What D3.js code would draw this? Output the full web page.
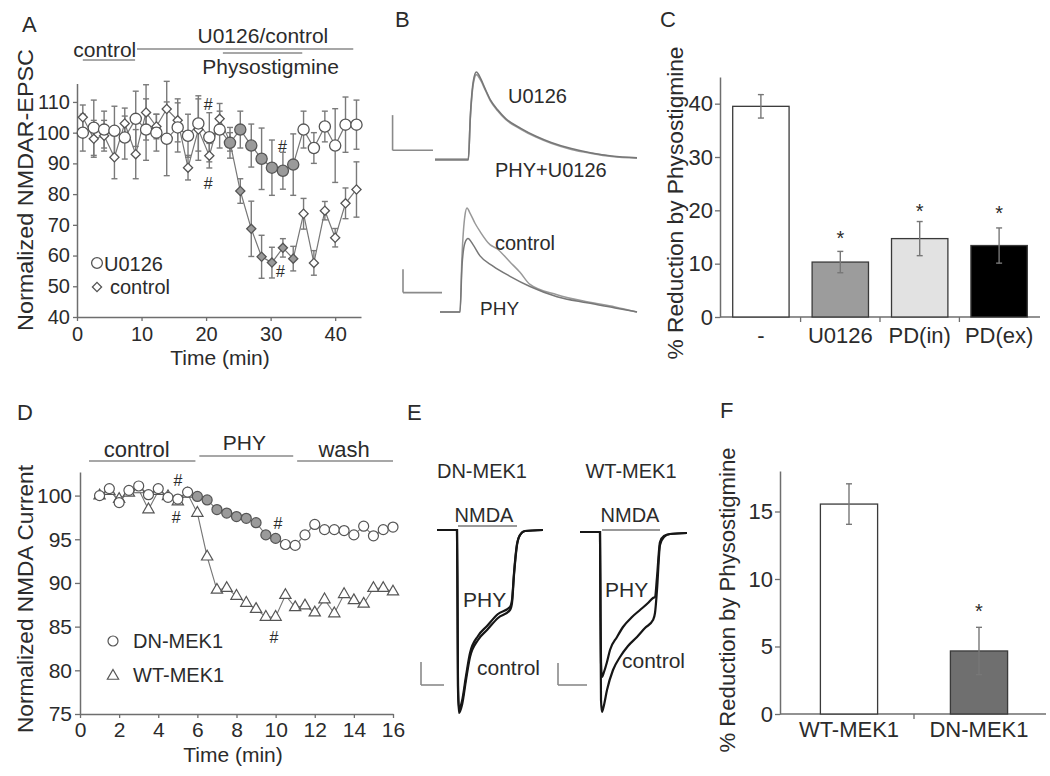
<!DOCTYPE html>
<html><head><meta charset="utf-8">
<script src="https://cdn.jsdelivr.net/npm/d3@7"></script>
<style>body{margin:0;background:#fff}</style>
</head><body><svg width="1050" height="776"></svg>
<script>
// ---------------- DATA ----------------
// Panel A : normalized NMDAR-EPSC vs time
const timeA = [0.9,2.6,4.2,5.8,7.4,9.1,10.7,12.3,13.9,15.6,17.2,18.8,20.5,22.1,23.7,25.3,27.0,28.6,30.2,31.9,33.5,35.1,36.7,38.4,40.0,41.6,43.3];
const u0126A = [100,101.6,101,100.6,98.4,104.5,101,100,98,101.7,99,103,98.5,101,96.7,101,95.8,91.5,88.6,87.6,89.6,101,95,102,95.8,102.6,102.6];
const u0126AErr = [6,9,6,8,7,9,10,6,12,8,7,9,8,6,5,6,7,10,9,6,10,6,5,5,12,9,8];
const controlA = [105,98,99,92,103,93,106.6,102,107.7,104,88.6,101,92.5,104.5,97,81,68.7,59.6,57.7,62.5,59,73.6,57.6,74.6,65.8,77,81.5];
const controlAErr = [4,6,5,7,5,8,9,4,9,7,4,10,4,5,3,4,9,7,5,3,4,5,4,3,3,5,9];
const ticksAx = [0,10,20,30,40];
const ticksAy = [40,50,60,70,80,90,100,110];
const periodsA = {control:[0.9,9.0], drug:[9.3,42.8], phy:[22.6,34.9]};
const hashA = [[20.3,109.4],[20.3,83.7],[31.8,95.8],[31.5,55]];

// Panel B : EPSC traces (time ms, normalized amplitude)
const traceU0126 = [[0,0],[33,0],[35,0.5],[38,0.9],[41,1.0],[45,0.93],[50,0.8],[55,0.68],[62,0.57],[70,0.47],[85,0.36],[100,0.27],[115,0.2],[135,0.13],[155,0.08],[175,0.045],[200,0.025]];
const tracePhyU0126 = [[0,0.01],[33,0.01],[35,0.48],[38,0.87],[41,0.97],[45,0.91],[50,0.79],[55,0.67],[62,0.56],[70,0.46],[85,0.35],[100,0.26],[115,0.19],[135,0.12],[155,0.075],[175,0.04],[200,0.02]];
const traceControlB = [[0,0],[20,0],[22,0.55],[25,0.95],[27,1.02],[30,0.97],[35,0.87],[40,0.79],[50,0.66],[57,0.62],[70,0.49],[80,0.39],[90,0.27],[117,0.17],[147,0.1],[175,0.05],[197,0]];
const tracePhyB = [[0,0],[20,0],[22,0.45],[25,0.68],[28,0.72],[33,0.66],[40,0.55],[53,0.45],[70,0.35],[90,0.25],[117,0.15],[147,0.09],[175,0.04],[197,0]];

// Panel C : % reduction
const catsC = ["-","U0126","PD(in)","PD(ex)"];
const reductionC = [39.5,10.3,14.7,13.4];
const errC = [2.2,2.0,3.2,3.3];
const starC = [null,15.5,20.6,20.2];
const ticksCy = [0,10,20,30,40];

// Panel D : normalized NMDA current
const timeD = [1,1.5,2,2.5,3,3.5,4,4.5,5,5.5,6,6.5,7,7.5,8,8.5,9,9.5,10,10.5,11,11.5,12,12.5,13,13.5,14,14.5,15,15.5,16];
const dnMek1 = [100.0,100.8,99.2,100.6,101.1,100.1,100.8,99.8,99.6,100.4,99.9,99.5,98.4,98.0,97.6,97.4,96.9,95.5,95.1,94.4,94.3,95.5,96.7,96.1,96.1,96.0,95.5,96.5,95.4,96.1,96.4];
const wtMek1 = [100,100.5,99.6,100.3,100.7,98.4,100.5,99.9,99.3,100.2,98.0,93.0,89.2,89.4,88.5,87.7,87.0,86.1,86.1,88.6,87.2,87.4,86.6,88.1,86.5,88.7,88.0,87.6,89.4,89.4,89.0];
const ticksDx = [0,2,4,6,8,10,12,14,16];
const ticksDy = [75,80,85,90,95,100];
const periodsD = {control:[0.46,5.9], phy:[6.1,10.9], wash:[11.1,16]};
const hashD = [[5.0,101.8],[4.9,97.5],[10.1,96.9],[9.9,83.8]];

// Panel E : NMDA current traces (time, pA)
const dnControlE = [[0,0],[20,0],[20.5,-70],[21,-160],[22,-183],[25,-175],[29,-150],[33,-127],[41,-110],[50,-100],[61,-88],[73,-80],[75,-73],[77,-45],[80,-15],[83,-5],[88,-1],[106,0]];
const dnPhyE = [[0,0],[20,0],[20.5,-68],[21,-155],[22,-179],[25,-171],[29,-146],[33,-123],[41,-106],[50,-96],[61,-84],[73,-77],[75,-70],[77,-43],[80,-14],[83,-5],[88,-1],[106,0]];
const wtControlE = [[0,0],[20,0],[20.5,-88],[21,-168],[22,-180],[24,-173],[27,-158],[33,-138],[40,-125],[48,-114],[57,-105],[65,-96],[73,-88],[75,-81],[77,-58],[80,-13],[84,-5],[90,-2],[107,-1]];
const wtPhyE = [[0,0],[20,0],[20.5,-80],[21,-130],[22,-145],[24,-140],[27,-130],[30,-118],[37,-105],[43,-95],[52,-85],[60,-78],[68,-71],[73,-66],[75,-65],[77,-45],[80,-10],[84,-4],[90,-2],[107,-1]];
const nmdaE = [20,80];

// Panel F
const catsF = ["WT-MEK1","DN-MEK1"];
const reductionF = [15.55,4.67];
const errF = [1.5,1.75];
const starF = [null,7.9];
const ticksFy = [0,5,10,15];

// ---------------- DRAW ----------------
const FONT = '"Liberation Sans", Arial, Helvetica, sans-serif';
const TXT = "#2b2b2b", AX = "#6e6e6e", GREY = "#9a9a9a";
const svg = d3.select("svg");
svg.append("rect").attr("width",1050).attr("height",776).attr("fill","#fff");

function label(x,y,s,fs,anchor,extra){
  const t = svg.append("text").attr("x",x).attr("y",y).attr("font-size",fs)
    .attr("text-anchor",anchor||"start").attr("fill",TXT).attr("font-family",FONT).text(s);
  if(extra) extra(t);
  return t;
}
function seg(x0,y0,x1,y1,color,w){
  return svg.append("line").attr("x1",x0).attr("y1",y0).attr("x2",x1).attr("y2",y1)
    .attr("stroke",color||AX).attr("stroke-width",w||1.5);
}
function vtitle(x,y,s,fs,len){
  svg.append("text").attr("transform",`translate(${x},${y}) rotate(-90)`)
    .attr("text-anchor","middle").attr("font-size",fs).attr("font-family",FONT).attr("fill",TXT)
    .attr("textLength",len).attr("lengthAdjust","spacingAndGlyphs").text(s);
}
function styleAxis(g,fs){
  g.attr("font-family",FONT).attr("font-size",fs).attr("color",AX);
  g.select(".domain").attr("stroke-width",1.5);
  g.selectAll(".tick line").attr("stroke-width",1.3);
  g.selectAll(".tick text").attr("fill",TXT);
}
function errBars(g, xs, vs, es, xS, yS, cap, color){
  vs.forEach((v,i)=>{
    const x = xS(xs[i]), y0 = yS(v-es[i]), y1 = yS(v+es[i]);
    g.append("line").attr("x1",x).attr("x2",x).attr("y1",y0).attr("y2",y1).attr("stroke",color).attr("stroke-width",1.4);
    [y0,y1].forEach(yy=>g.append("line").attr("x1",x-cap).attr("x2",x+cap).attr("y1",yy).attr("y2",yy).attr("stroke",color).attr("stroke-width",1.4));
  });
}
function hashMark(x,y){ label(x,y+6,"#",16,"middle",t=>t.attr("font-style","italic")); }

// panel letters
label(22,32,"A",22); label(395,27,"B",22); label(660,27,"C",22);
label(17,420,"D",22); label(407,420,"E",22); label(720,418,"F",22);

// ===== Panel A =====
const xA = d3.scaleLinear().domain([0,44]).range([77,361]);
const yA = d3.scaleLinear().domain([40,116]).range([317,83.5]);
styleAxis(svg.append("g").attr("transform",`translate(${xA(0)},0)`)
  .call(d3.axisLeft(yA).tickValues(ticksAy).tickSize(4).tickSizeOuter(0).tickPadding(3)),20);
const gAx = svg.append("g").attr("transform",`translate(0,${yA(40)})`)
  .call(d3.axisBottom(xA).tickValues(ticksAx).tickSize(4).tickSizeOuter(0));
styleAxis(gAx,20); gAx.selectAll(".tick text").attr("y",24).attr("dy",null);
label(220,365,"Time (min)",21,"middle");
vtitle(33,190,"Normalized NMDAR-EPSC",22,282);

// annotation bars
seg(xA(periodsA.control[0]),60,xA(periodsA.control[1]),60,"#8a8a8a",1.5);
label(xA(4.3),57,"control",21,"middle");
seg(xA(periodsA.drug[0]),49,xA(periodsA.drug[1]),49,"#8a8a8a",1.5);
label(xA(28.8),43,"U0126/control",21,"middle");
seg(xA(periodsA.phy[0]),53,xA(periodsA.phy[1]),53,"#8a8a8a",1.5);
label(xA(30),74,"Physostigmine",21,"middle");

const inPhyA = t => t>=periodsA.phy[0] && t<=periodsA.phy[1];
const gA = svg.append("g");
errBars(gA,timeA,controlA,controlAErr,xA,yA,3,"#7a7a7a");
errBars(gA,timeA,u0126A,u0126AErr,xA,yA,3,"#7a7a7a");
const lineA = d3.line().x((d,i)=>xA(timeA[i])).y(d=>yA(d));
gA.append("path").attr("d",lineA(controlA)).attr("fill","none").attr("stroke","#777").attr("stroke-width",1.2);
gA.append("path").attr("d",lineA(u0126A)).attr("fill","none").attr("stroke","#777").attr("stroke-width",1.2);
const diamond = d3.symbol(d3.symbolSquare,42);
gA.selectAll(".dA").data(controlA).join("path")
  .attr("transform",(d,i)=>`translate(${xA(timeA[i])},${yA(d)}) rotate(45)`)
  .attr("d",diamond).attr("fill",(d,i)=>inPhyA(timeA[i])?GREY:"#fff").attr("stroke","#555").attr("stroke-width",1.3);
gA.selectAll(".cA").data(u0126A).join("circle")
  .attr("cx",(d,i)=>xA(timeA[i])).attr("cy",d=>yA(d)).attr("r",5.6)
  .attr("fill",(d,i)=>inPhyA(timeA[i])?GREY:"#fff").attr("stroke","#555").attr("stroke-width",1.3);
hashA.forEach(h=>hashMark(xA(h[0]),yA(h[1])));
// legend A
svg.append("circle").attr("cx",97).attr("cy",263).attr("r",5.4).attr("fill","#fff").attr("stroke","#555").attr("stroke-width",1.3);
label(104,271,"U0126",20);
svg.append("path").attr("transform","translate(97,287) rotate(45)").attr("d",diamond).attr("fill","#fff").attr("stroke","#555").attr("stroke-width",1.3);
label(110,294,"control",20);

// ===== Panel B =====
const xBt = d3.scaleLinear().domain([0,200]).range([435,637]);
const yBt = d3.scaleLinear().domain([0,1]).range([160,72]);
const xBb = d3.scaleLinear().domain([0,197]).range([440,637]);
const yBb = d3.scaleLinear().domain([0,1]).range([312,210]);
const lt = d3.line().x(d=>xBt(d[0])).y(d=>yBt(d[1])).curve(d3.curveMonotoneX);
const lb = d3.line().x(d=>xBb(d[0])).y(d=>yBb(d[1])).curve(d3.curveMonotoneX);
svg.append("path").attr("d",lt(tracePhyU0126)).attr("fill","none").attr("stroke","#999").attr("stroke-width",1.6);
svg.append("path").attr("d",lt(traceU0126)).attr("fill","none").attr("stroke","#777").attr("stroke-width",1.6);
svg.append("path").attr("d",lb(traceControlB)).attr("fill","none").attr("stroke","#999").attr("stroke-width",1.5);
svg.append("path").attr("d",lb(tracePhyB)).attr("fill","none").attr("stroke","#777").attr("stroke-width",1.5);
// scale bars
seg(xBt(-42),yBt(0.11),xBt(-2),yBt(0.11),"#8a8a8a",1.6);
seg(xBt(-42),yBt(0.11),xBt(-42),yBt(0.51),"#8a8a8a",1.6);
seg(xBb(-37),yBb(0.19),xBb(2),yBb(0.19),"#8a8a8a",1.6);
seg(xBb(-37),yBb(0.19),xBb(-37),yBb(0.42),"#8a8a8a",1.6);
label(508,103,"U0126",20);
label(495,177,"PHY+U0126",20);
label(495,250,"control",20);
label(480,315,"PHY",19);

// ===== Panel C =====
const xC = d3.scaleBand().domain(catsC).range([720,1040]).paddingInner(0.29).paddingOuter(0.16);
const yC = d3.scaleLinear().domain([0,45]).range([317,77]);
styleAxis(svg.append("g").attr("transform","translate(720,0)")
  .call(d3.axisLeft(yC).tickValues(ticksCy).tickSize(5).tickSizeOuter(0).tickPadding(2)),22);
seg(720,317,1040,317,AX,1.5);
catsC.slice(1).forEach(c=>{ const bx = xC(c)-xC.step()*xC.paddingInner()/2; seg(bx,317,bx,322,AX,1.3); });
const fillsC = ["#fff","#9c9c9c","#e2e2e2","#000"];
const gC = svg.append("g");
gC.selectAll("rect").data(reductionC).join("rect")
  .attr("x",(d,i)=>xC(catsC[i])).attr("width",xC.bandwidth())
  .attr("y",d=>yC(d)).attr("height",d=>yC(0)-yC(d))
  .attr("fill",(d,i)=>fillsC[i]).attr("stroke","#3a3a3a").attr("stroke-width",1.3);
errBars(gC,catsC.map((c,i)=>i),reductionC,errC,i=>xC(catsC[i])+xC.bandwidth()/2,yC,3,"#777");
catsC.forEach((c,i)=>{
  label(xC(c)+xC.bandwidth()/2,343,c,22,"middle");
  if(starC[i]!=null) label(xC(c)+xC.bandwidth()/2,yC(starC[i])+11,"*",20,"middle");
});
vtitle(683,203,"% Reduction by Physostigmine",22,313);

// ===== Panel D =====
const xD = d3.scaleLinear().domain([0,16]).range([80,393]);
const yD = d3.scaleLinear().domain([75,102.7]).range([714,472]);
styleAxis(svg.append("g").attr("transform",`translate(${xD(0)},0)`)
  .call(d3.axisLeft(yD).tickValues(ticksDy).tickSize(5).tickSizeOuter(0).tickPadding(3)),21);
const gDx = svg.append("g").attr("transform",`translate(0,${yD(75)})`)
  .call(d3.axisBottom(xD).tickValues(ticksDx).tickSize(4).tickSizeOuter(0));
styleAxis(gDx,21); gDx.selectAll(".tick text").attr("y",23).attr("dy",null);
label(233,762,"Time (min)",21,"middle");
vtitle(33,599,"Normalized NMDA Current",22,268);
seg(xD(periodsD.control[0]),461,xD(periodsD.control[1]),461,"#8a8a8a",1.5);
label(xD(2.9),457,"control",22,"middle");
seg(xD(periodsD.phy[0]),456,xD(periodsD.phy[1]),456,"#8a8a8a",1.5);
label(xD(8.4),450,"PHY",21,"middle");
seg(xD(periodsD.wash[0]),461,xD(periodsD.wash[1]),461,"#8a8a8a",1.5);
label(xD(13.5),457,"wash",22,"middle");
const inPhyD = t => t>=6 && t<=10;
const lineD = d3.line().x((d,i)=>xD(timeD[i])).y(d=>yD(d));
const gD = svg.append("g");
gD.append("path").attr("d",lineD(wtMek1)).attr("fill","none").attr("stroke","#777").attr("stroke-width",1.1);
gD.append("path").attr("d",lineD(dnMek1)).attr("fill","none").attr("stroke","#777").attr("stroke-width",1.1);
const tri = d3.symbol(d3.symbolTriangle,55);
gD.selectAll(".tD").data(wtMek1).join("path")
  .attr("transform",(d,i)=>`translate(${xD(timeD[i])},${yD(d)})`)
  .attr("d",tri).attr("fill","#fff").attr("stroke","#555").attr("stroke-width",1.2);
gD.selectAll(".cD").data(dnMek1).join("circle")
  .attr("cx",(d,i)=>xD(timeD[i])).attr("cy",d=>yD(d)).attr("r",5)
  .attr("fill",(d,i)=>inPhyD(timeD[i])?GREY:"#fff").attr("stroke","#555").attr("stroke-width",1.2);
hashD.forEach(h=>hashMark(xD(h[0]),yD(h[1])));
svg.append("circle").attr("cx",113).attr("cy",641).attr("r",5).attr("fill","#fff").attr("stroke","#555").attr("stroke-width",1.2);
label(133,648,"DN-MEK1",20);
svg.append("path").attr("transform","translate(113,676)").attr("d",tri).attr("fill","#fff").attr("stroke","#555").attr("stroke-width",1.2);
label(133,682,"WT-MEK1",20);

// ===== Panel E =====
const xEL = d3.scaleLinear().domain([0,106]).range([437,543]);
const yEL = d3.scaleLinear().domain([-183,0]).range([713,530]);
const xER = d3.scaleLinear().domain([0,107]).range([580,687]);
const yER = d3.scaleLinear().domain([-180,0]).range([712,532]);
const lEL = d3.line().x(d=>xEL(d[0])).y(d=>yEL(d[1])).curve(d3.curveMonotoneX);
const lER = d3.line().x(d=>xER(d[0])).y(d=>yER(d[1])).curve(d3.curveMonotoneX);
[[dnControlE,lEL],[dnPhyE,lEL],[wtControlE,lER],[wtPhyE,lER]].forEach(p=>
  svg.append("path").attr("d",p[1](p[0])).attr("fill","none").attr("stroke","#161616").attr("stroke-width",2.2));
seg(xEL(nmdaE[0])+1,526,xEL(nmdaE[1]),526,"#999",2);
seg(xER(nmdaE[0])+2,530,xER(nmdaE[1]),530,"#999",2);
seg(xEL(-16),yEL(-155),xEL(7),yEL(-155),"#8a8a8a",1.6);
seg(xEL(-16),yEL(-155),xEL(-16),yEL(-132),"#8a8a8a",1.6);
seg(xER(-22),yER(-153),xER(7),yER(-153),"#8a8a8a",1.6);
seg(xER(-22),yER(-153),xER(-22),yER(-131),"#8a8a8a",1.6);
label(482,478,"DN-MEK1",20,"middle");
label(631,478,"WT-MEK1",20,"middle");
label(484,522,"NMDA",20,"middle");
label(630,522,"NMDA",20,"middle");
label(463,607,"PHY",21);
label(477,675,"control",21);
label(605,597,"PHY",21);
label(622,668,"control",21);

// ===== Panel F =====
const xF = d3.scaleBand().domain(catsF).range([784,1044]).paddingInner(0.56).paddingOuter(0.28);
const yF = d3.scaleLinear().domain([0,18]).range([714,471]);
styleAxis(svg.append("g").attr("transform","translate(780,0)")
  .call(d3.axisLeft(yF).tickValues(ticksFy).tickSize(5).tickSizeOuter(0).tickPadding(2)),22);
seg(780,714,1046,714,AX,1.5);
{ const bx = xF(catsF[1])-xF.step()*xF.paddingInner()/2; seg(bx,714,bx,719,AX,1.3); }
const fillsF = ["#fff","#6f6f6f"];
const gF = svg.append("g");
gF.selectAll("rect").data(reductionF).join("rect")
  .attr("x",(d,i)=>xF(catsF[i])).attr("width",xF.bandwidth())
  .attr("y",d=>yF(d)).attr("height",d=>yF(0)-yF(d))
  .attr("fill",(d,i)=>fillsF[i]).attr("stroke","#3a3a3a").attr("stroke-width",1.3);
errBars(gF,[0,1],reductionF,errF,i=>xF(catsF[i])+xF.bandwidth()/2,yF,3,"#777");
catsF.forEach((c,i)=>{
  label(xF(c)+xF.bandwidth()/2,737,c,22,"middle");
  if(starF[i]!=null) label(xF(c)+xF.bandwidth()/2,yF(starF[i])+11,"*",20,"middle");
});
vtitle(735,600,"% Reduction by Physostigmine",22,305);
</script></body></html>
